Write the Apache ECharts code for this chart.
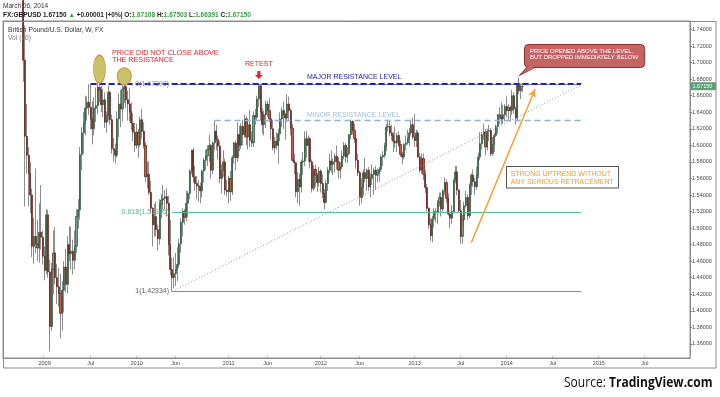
<!DOCTYPE html>
<html>
<head>
<meta charset="utf-8">
<script src="https://cdn.jsdelivr.net/npm/echarts@6/dist/echarts.min.js"></script>
<style>
html, body { margin: 0; padding: 0; background: #fff; }
#main { width: 720px; height: 397px; }
</style>
</head>
<body>
<div id="main"></div>
<script>
// weekly GBPUSD candles, one row per week: [open, close, low, high]
var firstWeek = '2008-07-21';
var weekCount = 388;       // categories on the time axis (to end of 2015)
var hiddenWeeks = 11;      // first weeks sit above the visible price range

var w2008 = [
  [1.775,1.703,1.677,1.782],[1.703,1.611,1.526,1.745],[1.611,1.588,1.566,1.650],[1.588,1.566,1.526,1.598],
  [1.566,1.540,1.518,1.580],[1.540,1.478,1.465,1.548],[1.478,1.490,1.457,1.512],[1.490,1.481,1.470,1.572],
  [1.481,1.476,1.460,1.510],[1.476,1.495,1.458,1.530],[1.495,1.489,1.474,1.552],[1.489,1.466,1.456,1.497],
  [1.466,1.449,1.437,1.478]
];
var w2009 = [
  [1.449,1.516,1.444,1.523],[1.516,1.447,1.440,1.522],[1.447,1.381,1.351,1.462],[1.381,1.450,1.376,1.458],
  [1.450,1.470,1.420,1.497],[1.470,1.440,1.432,1.501],[1.440,1.429,1.408,1.457],[1.429,1.421,1.405,1.452],
  [1.421,1.397,1.367,1.445],[1.397,1.425,1.376,1.436],[1.425,1.453,1.398,1.460],[1.453,1.432,1.422,1.475],
  [1.432,1.480,1.421,1.490],[1.480,1.469,1.460,1.502],[1.469,1.472,1.450,1.502],[1.472,1.461,1.444,1.486],
  [1.461,1.478,1.450,1.497],[1.478,1.514,1.470,1.523],[1.514,1.522,1.500,1.535],[1.522,1.589,1.510,1.598],
  [1.589,1.615,1.570,1.622],[1.615,1.627,1.590,1.640],[1.627,1.645,1.612,1.660],[1.645,1.652,1.630,1.659],
  [1.652,1.646,1.637,1.674],[1.646,1.632,1.619,1.674],[1.632,1.620,1.601,1.653],[1.620,1.645,1.612,1.658],
  [1.645,1.648,1.628,1.670],[1.648,1.670,1.638,1.676],[1.670,1.667,1.652,1.704],[1.667,1.649,1.640,1.672],
  [1.649,1.655,1.634,1.668],[1.655,1.628,1.621,1.664],[1.628,1.636,1.615,1.641],[1.636,1.664,1.630,1.672],
  [1.664,1.631,1.625,1.666],[1.631,1.596,1.590,1.637],[1.596,1.594,1.580,1.609],[1.594,1.588,1.578,1.602],
  [1.588,1.632,1.585,1.641],[1.632,1.650,1.610,1.663],[1.650,1.644,1.622,1.667],[1.644,1.668,1.629,1.678],
  [1.668,1.671,1.651,1.686],[1.671,1.655,1.645,1.680],[1.655,1.650,1.630,1.666],[1.650,1.641,1.629,1.669],
  [1.641,1.627,1.618,1.652],[1.627,1.616,1.605,1.639],[1.616,1.600,1.592,1.627],[1.600,1.616,1.596,1.626]
];
var w2010 = [
  [1.616,1.601,1.585,1.620],[1.601,1.631,1.598,1.635],[1.631,1.617,1.608,1.644],[1.617,1.600,1.596,1.628],
  [1.600,1.562,1.556,1.604],[1.562,1.565,1.548,1.580],[1.565,1.543,1.540,1.581],[1.543,1.524,1.518,1.557],
  [1.524,1.504,1.478,1.525],[1.504,1.514,1.490,1.529],[1.514,1.498,1.490,1.532],[1.498,1.487,1.473,1.504],
  [1.487,1.529,1.480,1.535],[1.529,1.534,1.512,1.541],[1.534,1.536,1.522,1.552],[1.536,1.538,1.523,1.546],
  [1.538,1.530,1.514,1.548],[1.530,1.480,1.467,1.539],[1.480,1.450,1.443,1.510],[1.450,1.440,1.423,1.464],
  [1.440,1.445,1.427,1.465],[1.445,1.450,1.430,1.470],[1.450,1.456,1.436,1.477],[1.456,1.481,1.452,1.487],
  [1.481,1.507,1.470,1.512],[1.507,1.520,1.490,1.524],[1.520,1.513,1.504,1.523],[1.513,1.530,1.508,1.545],
  [1.530,1.542,1.513,1.545],[1.542,1.569,1.535,1.571],[1.569,1.594,1.565,1.595],[1.594,1.562,1.555,1.597],
  [1.562,1.554,1.545,1.575],[1.554,1.551,1.535,1.563],[1.551,1.550,1.532,1.558],[1.550,1.545,1.530,1.555],
  [1.545,1.569,1.537,1.571],[1.569,1.582,1.555,1.585],[1.582,1.587,1.570,1.595],[1.587,1.595,1.575,1.600],
  [1.595,1.600,1.580,1.613],[1.600,1.570,1.560,1.602],[1.570,1.603,1.565,1.605],[1.603,1.617,1.594,1.630],
  [1.617,1.607,1.594,1.625],[1.607,1.599,1.583,1.612],[1.599,1.560,1.554,1.605],[1.560,1.570,1.542,1.577],
  [1.570,1.580,1.562,1.594],[1.580,1.546,1.540,1.584],[1.546,1.544,1.538,1.558],[1.544,1.560,1.530,1.563]
];
var w2011 = [
  [1.560,1.544,1.533,1.569],[1.544,1.585,1.540,1.588],[1.585,1.603,1.578,1.604],[1.603,1.585,1.570,1.606],
  [1.585,1.613,1.580,1.628],[1.613,1.600,1.593,1.624],[1.600,1.623,1.596,1.627],[1.623,1.613,1.600,1.631],
  [1.613,1.632,1.609,1.637],[1.632,1.610,1.600,1.635],[1.610,1.625,1.595,1.628],[1.625,1.606,1.598,1.643],
  [1.606,1.603,1.598,1.617],[1.603,1.636,1.598,1.641],[1.636,1.634,1.625,1.644],[1.634,1.656,1.630,1.660],
  [1.656,1.672,1.646,1.675],[1.672,1.640,1.630,1.674],[1.640,1.625,1.614,1.645],[1.625,1.637,1.612,1.642],
  [1.637,1.650,1.621,1.654],[1.650,1.642,1.634,1.654],[1.642,1.632,1.628,1.657],[1.632,1.620,1.607,1.640],
  [1.620,1.597,1.594,1.631],[1.597,1.605,1.590,1.610],[1.605,1.600,1.595,1.616],[1.600,1.614,1.578,1.620],
  [1.614,1.632,1.605,1.640],[1.632,1.642,1.622,1.646],[1.642,1.637,1.620,1.653],[1.637,1.633,1.607,1.639],
  [1.633,1.650,1.628,1.662],[1.650,1.642,1.631,1.659],[1.642,1.621,1.612,1.645],[1.621,1.582,1.580,1.626],
  [1.582,1.579,1.565,1.590],[1.579,1.544,1.537,1.580],[1.544,1.559,1.530,1.568],[1.559,1.550,1.527,1.566],
  [1.550,1.580,1.543,1.583],[1.580,1.581,1.564,1.592],[1.581,1.608,1.575,1.617],[1.608,1.600,1.585,1.617],
  [1.600,1.608,1.580,1.612],[1.608,1.580,1.572,1.610],[1.580,1.548,1.543,1.583],[1.548,1.571,1.545,1.576],
  [1.571,1.564,1.550,1.576],[1.564,1.555,1.544,1.567],[1.555,1.569,1.550,1.574],[1.569,1.554,1.543,1.571]
];
var w2012 = [
  [1.554,1.542,1.536,1.565],[1.542,1.531,1.523,1.547],[1.531,1.554,1.530,1.558],[1.554,1.570,1.545,1.574],
  [1.570,1.581,1.566,1.590],[1.581,1.577,1.567,1.594],[1.577,1.580,1.564,1.584],[1.580,1.587,1.567,1.590],
  [1.587,1.580,1.571,1.600],[1.580,1.570,1.560,1.586],[1.570,1.574,1.560,1.580],[1.574,1.587,1.571,1.594],
  [1.587,1.600,1.583,1.604],[1.600,1.586,1.579,1.603],[1.586,1.590,1.579,1.598],[1.590,1.613,1.588,1.614],
  [1.613,1.629,1.607,1.631],[1.629,1.618,1.613,1.630],[1.618,1.608,1.603,1.626],[1.608,1.582,1.572,1.612],
  [1.582,1.567,1.563,1.590],[1.567,1.537,1.527,1.569],[1.537,1.549,1.530,1.560],[1.549,1.567,1.539,1.571],
  [1.567,1.560,1.555,1.585],[1.560,1.570,1.545,1.572],[1.570,1.550,1.545,1.574],[1.550,1.560,1.537,1.566],
  [1.560,1.565,1.552,1.577],[1.565,1.570,1.540,1.573],[1.570,1.564,1.546,1.575],[1.564,1.567,1.555,1.572],
  [1.567,1.571,1.556,1.574],[1.571,1.586,1.568,1.589],[1.586,1.588,1.575,1.593],[1.588,1.599,1.585,1.603],
  [1.599,1.622,1.593,1.626],[1.622,1.623,1.617,1.631],[1.623,1.615,1.611,1.630],[1.615,1.612,1.606,1.625],
  [1.612,1.605,1.592,1.616],[1.605,1.603,1.597,1.623],[1.603,1.612,1.592,1.615],[1.612,1.601,1.598,1.617],
  [1.601,1.589,1.586,1.606],[1.589,1.586,1.577,1.592],[1.586,1.601,1.583,1.603],[1.601,1.603,1.594,1.612],
  [1.603,1.608,1.601,1.619],[1.608,1.615,1.599,1.621],[1.615,1.625,1.612,1.631],[1.625,1.610,1.607,1.633]
];
var w2013 = [
  [1.610,1.606,1.598,1.638],[1.606,1.615,1.598,1.619],[1.615,1.586,1.585,1.618],[1.586,1.570,1.567,1.591],
  [1.570,1.584,1.566,1.590],[1.584,1.565,1.558,1.590],[1.565,1.549,1.542,1.570],[1.549,1.524,1.520,1.553],
  [1.524,1.504,1.499,1.525],[1.504,1.491,1.484,1.512],[1.491,1.511,1.483,1.515],[1.511,1.520,1.501,1.524],
  [1.520,1.519,1.507,1.524],[1.519,1.531,1.505,1.534],[1.531,1.537,1.526,1.543],[1.537,1.523,1.514,1.543],
  [1.523,1.545,1.520,1.547],[1.545,1.555,1.540,1.561],[1.555,1.536,1.530,1.559],[1.536,1.517,1.515,1.542],
  [1.517,1.512,1.500,1.520],[1.512,1.520,1.505,1.528],[1.520,1.558,1.518,1.559],[1.558,1.568,1.554,1.575],
  [1.568,1.546,1.540,1.575],[1.546,1.521,1.518,1.547],[1.521,1.490,1.481,1.534],[1.490,1.510,1.481,1.516],
  [1.510,1.527,1.503,1.532],[1.527,1.537,1.525,1.545],[1.537,1.515,1.510,1.541],[1.515,1.552,1.512,1.554],
  [1.552,1.564,1.540,1.566],[1.564,1.556,1.550,1.571],[1.556,1.550,1.540,1.561],[1.550,1.564,1.546,1.574],
  [1.564,1.586,1.560,1.591],[1.586,1.602,1.582,1.616],[1.602,1.613,1.595,1.616],[1.613,1.616,1.607,1.626],
  [1.616,1.598,1.588,1.620],[1.598,1.617,1.594,1.620],[1.617,1.618,1.605,1.625],[1.618,1.590,1.587,1.621],
  [1.590,1.601,1.587,1.610],[1.601,1.612,1.592,1.615],[1.612,1.623,1.610,1.625],[1.623,1.637,1.614,1.638],
  [1.637,1.635,1.626,1.646],[1.635,1.632,1.625,1.652],[1.632,1.637,1.626,1.649],[1.637,1.647,1.629,1.650],
  [1.647,1.642,1.634,1.659]
];
var w2014 = [
  [1.642,1.646,1.631,1.650],[1.646,1.642,1.629,1.648],[1.642,1.660,1.637,1.667],[1.660,1.644,1.638,1.664],
  [1.644,1.633,1.625,1.647],[1.633,1.674,1.629,1.675],[1.674,1.666,1.662,1.682],[1.666,1.67149,1.656,1.675],
  [1.67108,1.6715,1.66391,1.67503]
];

// right axis and time axis labels
var yTicks = [1.36,1.38,1.40,1.42,1.44,1.46,1.48,1.50,1.52,1.54,1.56,1.58,1.60,1.62,1.64,1.66,1.68,1.70,1.72,1.74];
var xTickDates = ['2009-01-01','2009-07-01','2010-01-01','2010-06-01','2011-01-01','2011-06-01','2012-01-01',
                  '2012-06-01','2013-01-01','2013-07-01','2014-01-01','2014-07-01','2015-01-01','2015-07-01'];
var xTickText = ['2009','Jul','2010','Jun','2011','Jun','2012','Jun','2013','Jul','2014','Jul','2015','Jul'];

// drawn levels
var majorLevel = 1.6739;
var minorLevel = 1.6298;
var fibRatios = ['0', '0.618', '1'];
var fibValues = [1.67390, 1.51905, 1.42334];

var DAY = 864e5;
var t0 = Date.parse(firstWeek + 'T00:00:00Z');
var weeks = [];
for (var i = 0; i < weekCount; i++) {
    weeks.push(new Date(t0 + i * 7 * DAY).toISOString().slice(0, 10));
}
var tickText = {};
xTickDates.forEach(function (d, k) {
    var idx = Math.floor((Date.parse(d + 'T00:00:00Z') - t0) / (7 * DAY));
    tickText[idx] = xTickText[k];
});
function isTick(idx) { return tickText[idx] !== undefined; }

var candles = [];
for (i = 0; i < hiddenWeeks; i++) candles.push('-');
candles = candles.concat(w2008, w2009, w2010, w2011, w2012, w2013, w2014);
var bodies = candles.map(function (r) {
    return r === '-' ? '-' : [r[0], r[1], Math.min(r[0], r[1]), Math.max(r[0], r[1])];
});
var last = candles[candles.length - 1];
var prev = candles[candles.length - 2];

var fontFam = '"Liberation Sans", Arial, sans-serif';
var upColor = '#6ba583', downColor = '#d75442';
var red = '#e3262b';

function hline(from, to, value, style) {
    return [{ coord: [from, value], lineStyle: style }, { coord: [to, value] }];
}
var lineEnd = '2014-10-20';
var fibStart = '2010-05-17';
var fibColors = ['#8a8a8a', '#55bc9c', '#8a8a8a'];
var fibLabelColors = ['#8a8a8a', '#4cb896', '#666666'];

var markLines = [];
fibValues.forEach(function (v, k) {
    markLines.push(hline(fibStart, lineEnd, v, { color: fibColors[k], width: 1, type: 'solid' }));
});
markLines.push(hline('2010-11-01', lineEnd, minorLevel, { color: '#8fb3da', width: 1.3, type: [6, 4] }));
markLines.push(hline('2009-06-29', lineEnd, majorLevel, { color: '#1f22b8', width: 2, type: [6, 3] }));
// trend line from the 2010 low
markLines.push([{ coord: [fibStart, fibValues[2]], lineStyle: { color: '#9a9a9a', width: 1, type: [1, 2] } },
                { coord: [lineEnd, 1.673] }]);
// uptrend arrow
markLines.push([{ coord: ['2013-08-12', 1.4824], lineStyle: { color: '#f3a332', width: 1.5, type: 'solid' } },
                { coord: ['2014-04-21', 1.6678], symbol: 'arrow', symbolSize: [6, 8] }]);

var chart = echarts.init(document.getElementById('main'));

var option = {
    animation: false,
    textStyle: { fontFamily: fontFam },
    grid: { left: 3, right: 30, top: 21, bottom: 39, show: true, borderColor: '#8c8c8c', borderWidth: 1, backgroundColor: '#fff' },
    xAxis: {
        type: 'category',
        data: weeks,
        boundaryGap: true,
        axisLine: { show: true, lineStyle: { color: '#8c8c8c' } },
        axisTick: { show: true, inside: true, length: 2, interval: isTick, lineStyle: { color: '#b0b0b0' } },
        axisLabel: { interval: isTick, formatter: function (v, idx) { return tickText[idx] || ''; },
                     fontSize: 5.5, color: '#444', margin: 2 },
        splitLine: { show: false }
    },
    yAxis: {
        type: 'value',
        position: 'right',
        min: 1.343,
        max: 1.7503,
        axisLine: { show: true, lineStyle: { color: '#8c8c8c' } },
        axisTick: { show: true, length: 2, customValues: yTicks, lineStyle: { color: '#777' } },
        axisLabel: { customValues: yTicks, formatter: function (v) { return v.toFixed(5); },
                     fontSize: 5.5, color: '#444', margin: 2 },
        splitLine: { show: false }
    },
    series: [
        {
            name: 'wicks',
            type: 'candlestick',
            data: candles,
            clip: true,
            barWidth: 1,
            itemStyle: { color: '#8d8d8d', color0: '#8d8d8d', borderColor: '#8d8d8d', borderColor0: '#8d8d8d', borderWidth: 1 }
        },
        {
            name: 'GBPUSD',
            type: 'candlestick',
            data: bodies,
            clip: true,
            barWidth: 1.6,
            itemStyle: { color: upColor, color0: downColor, borderColor: '#225437', borderColor0: '#5b1a13', borderWidth: 0.7 },
            markLine: {
                silent: true,
                symbol: ['none', 'none'],
                label: { show: false },
                data: markLines
            },
            markPoint: {
                silent: true,
                data: [
                    { coord: ['2009-08-03', 1.6921], symbol: 'circle', symbolSize: [12, 28],
                      itemStyle: { color: '#c9c46a', borderColor: '#d98c38', borderWidth: 1 }, label: { show: false } },
                    { coord: ['2009-11-09', 1.6835], symbol: 'circle', symbolSize: [14, 17],
                      itemStyle: { color: '#c9c46a', borderColor: '#d98c38', borderWidth: 1 }, label: { show: false } },
                    { coord: ['2011-04-25', 1.6851], symbol: 'path://M3,0L7,0L7,5L10,5L5,10L0,5L3,5Z', symbolSize: [8, 8],
                      itemStyle: { color: '#e8262a' },
                      label: { show: true, position: 'top', distance: 3, formatter: 'RETEST', color: red, fontSize: 7 } }
                ]
            }
        }
    ],
    graphic: []
};
chart.setOption(option);

// text measuring for boxes
var mctx = document.createElement('canvas').getContext('2d');
function textW(str, size, weight, fam) {
    mctx.font = (weight || 'normal') + ' ' + size + 'px ' + (fam || fontFam);
    return mctx.measureText(str).width;
}
function txt(str, x, y, size, color, extra) {
    var st = { text: str, x: x, y: y, fill: color, fontSize: size, fontFamily: fontFam, textVerticalAlign: 'middle', textAlign: 'left' };
    for (var k in extra) st[k] = extra[k];
    return { type: 'text', silent: true, z: 100, style: st };
}

var changeVal = last[1] - prev[1];
var headerRich = '{b|FX:GBPUSD ' + last[1].toFixed(5) + ' }{g|\u25B2}{b| ' + (changeVal >= 0 ? '+' : '') + changeVal.toFixed(5) +
    ' |+0%| O:}{g|' + last[0].toFixed(5) + '}{b| H:}{g|' + last[3].toFixed(5) + '}{b| L:}{g|' + last[2].toFixed(5) +
    '}{b| C:}{g|' + last[1].toFixed(5) + '}';

var callout = ['PRICE OPENED ABOVE THE LEVEL,', 'BUT DROPPED IMMEDIATELY BELOW'];
var calloutW = Math.max(textW(callout[0], 6), textW(callout[1], 6)) + 12;
var trendNote = ['STRONG UPTREND WITHOUT', 'ANY SERIOUS RETRACEMENT'];
var trendW = Math.max(textW(trendNote[0], 7), textW(trendNote[1], 7)) + 9;

var srcA = 'Source: ', srcB = 'TradingView.com';
var srcFam = '"Open Sans", "Liberation Sans", sans-serif';
var wA = textW(srcA, 14, 'normal', srcFam), wB = textW(srcB, 14, 'bold', srcFam);
var srcScale = 148.6 / (wA + wB);

var py = chart.convertToPixel({ yAxisIndex: 0 }, last[1]);

var graphics = [
    { type: 'rect', silent: true, z: 90, shape: { x: 3.5, y: 21.5, width: 712.5, height: 346.5 },
      style: { fill: 'none', stroke: '#8c8c8c', lineWidth: 1 } },
    txt('March 06, 2014', 3, 6, 6.5, '#333'),
    { type: 'text', silent: true, z: 100, style: { text: headerRich, x: 3, y: 15, textVerticalAlign: 'middle',
        rich: { b: { fontSize: 6.5, fontWeight: 'bold', fill: '#222', fontFamily: fontFam },
                g: { fontSize: 6.5, fontWeight: 'bold', fill: '#35a13f', fontFamily: fontFam } } } },
    txt('British Pound/U.S. Dollar, W, FX', 8, 30, 6.7, '#333'),
    txt('Vol (20)', 8, 38, 6.7, '#777'),
    txt('PRICE DID NOT CLOSE ABOVE', 112, 53.2, 7.2, red),
    txt('THE RESISTANCE', 112, 59.8, 7.2, red),
    txt('MAJOR RESISTANCE LEVEL', 307, 76.7, 7, '#1d1fa6'),
    txt('MINOR RESISTANCE LEVEL', 307, 115, 7, '#9dbde0'),
    // callout with pointer
    { type: 'rect', silent: true, z: 95, shape: { x: 524.5, y: 44.5, width: calloutW, height: 23, r: 4 },
      style: { fill: '#c46464', stroke: '#8e2e2e', lineWidth: 1 } },
    { type: 'polygon', silent: true, z: 96, shape: { points: [[527, 66.5], [535, 66.5], [519.3, 75.5]] },
      style: { fill: '#c46464' } },
    { type: 'polyline', silent: true, z: 96, shape: { points: [[527, 67.5], [519.3, 75.5], [535, 67.5]] },
      style: { stroke: '#8e2e2e', lineWidth: 1, fill: 'none' } },
    txt(callout[0], 530, 51.3, 6, '#fff'),
    txt(callout[1], 530, 57.5, 6, '#fff'),
    // uptrend note
    { type: 'rect', silent: true, z: 95, shape: { x: 506.5, y: 166.5, width: trendW, height: 21.5 },
      style: { fill: '#fff', stroke: '#555', lineWidth: 1 } },
    txt(trendNote[0], 510.7, 174.1, 7, '#f0a030'),
    txt(trendNote[1], 510.7, 181.8, 7, '#f0a030'),
    // last price tag on the axis
    { type: 'rect', silent: true, z: 95, shape: { x: 690.5, y: py - 4, width: 25.5, height: 8 },
      style: { fill: '#5e9e74' } },
    txt(last[1].toFixed(5), 692.5, py, 5.5, '#fff'),
    // source
    { type: 'group', x: 564, y: 383, scaleX: srcScale, silent: true, children: [
        { type: 'text', style: { text: srcA, x: 0, y: 0, fontSize: 14, fontFamily: srcFam, fill: '#111', textVerticalAlign: 'middle' } },
        { type: 'text', style: { text: srcB, x: wA, y: 0, fontSize: 14, fontWeight: 'bold', fontFamily: srcFam, fill: '#111', textVerticalAlign: 'middle' } }
    ] }
];
// fib level labels, placed left of where each level starts, drawn over the candles
fibValues.forEach(function (v, k) {
    var p = chart.convertToPixel({ gridIndex: 0 }, [fibStart, v]);
    graphics.push(txt(fibRatios[k] + '(' + v.toFixed(5) + ')', p[0] - 3, p[1], 7, fibLabelColors[k], { textAlign: 'right' }));
});
chart.setOption({ graphic: graphics });
</script>
</body>
</html>
